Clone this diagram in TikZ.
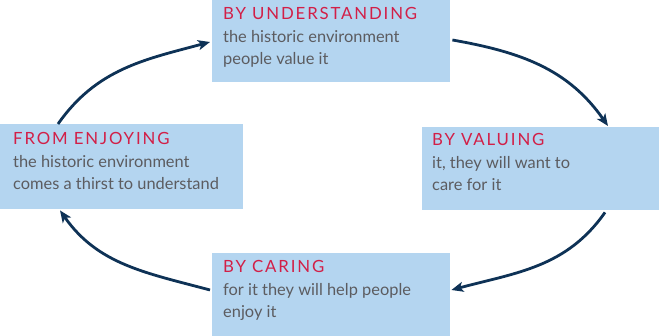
\documentclass[tikz,border=0pt]{standalone}
\usepackage{fontspec}
\setmainfont{Lato}
\usepackage{xcolor}
\usepackage{tikz}
\usetikzlibrary{arrows.meta,calc}

\definecolor{boxblue}{RGB}{180,213,240}
\definecolor{headred}{RGB}{210,31,71}
\definecolor{bodygrey}{RGB}{92,92,96}
\definecolor{arrownavy}{RGB}{14,50,86}

\newcommand{\stagehead}[1]{{\color{headred}\fontsize{16.8}{22.5}\selectfont\addfontfeature{LetterSpace=11}#1}}

\begin{document}
\begin{tikzpicture}[x=1pt,y=-1pt,
    stagebox/.style={fill=boxblue,draw=none,inner sep=0pt,anchor=north west},
    % base sits on the last of the three lines
    stagetext/.style={anchor=base west,align=left,inner sep=0pt,text=bodygrey,
      font=\fontsize{16.4}{22.5}\selectfont},
    cycle/.style={draw=arrownavy,line width=2.8pt,-{Stealth[length=12pt,width=10pt,inset=3pt]}}]
  \useasboundingbox (0,0) rectangle (659,336);

  % the four stages of the cycle
  \node[stagebox,minimum width=238,minimum height=82] (understand) at (212,0) {};
  \node[stagebox,minimum width=237,minimum height=83] (valuing) at (422,127) {};
  \node[stagebox,minimum width=238,minimum height=83] (caring) at (212,253) {};
  \node[stagebox,minimum width=243,minimum height=85] (enjoying) at (0,124) {};

  \node[stagetext] (understand-text) at ($(understand.north west)+(11,65)$)
    {\stagehead{BY UNDERSTANDING}\\ the historic environment\\ people value it};
  \node[stagetext] (valuing-text) at ($(valuing.north west)+(10,64)$)
    {\stagehead{BY VALUING}\\ it, they will want to\\ care for it};
  \node[stagetext] (caring-text) at ($(caring.north west)+(11,65)$)
    {\stagehead{BY CARING}\\ for it they will help people\\ enjoy it};
  \node[stagetext] (enjoying-text) at ($(enjoying.north west)+(13,66)$)
    {\stagehead{FROM ENJOYING}\\ the historic environment\\ comes a thirst to understand};

  % arrows going round clockwise
  \draw[cycle] ($(enjoying.north west)+(58,0)$) to[out=55,in=195]
    ($(understand.north west)+(-2,42)$);
  \draw[cycle] ($(understand.north east)+(2,40)$) to[out=-10,in=125]
    ($(valuing.north west)+(186,-1)$);
  \draw[cycle] ($(valuing.south west)+(183,2)$) to[out=235,in=15]
    ($(caring.north east)+(1,37)$);
  \draw[cycle] ($(caring.north west)+(-2,37)$) to[out=165,in=-55]
    ($(enjoying.south west)+(60,1)$);
\end{tikzpicture}
\end{document}
